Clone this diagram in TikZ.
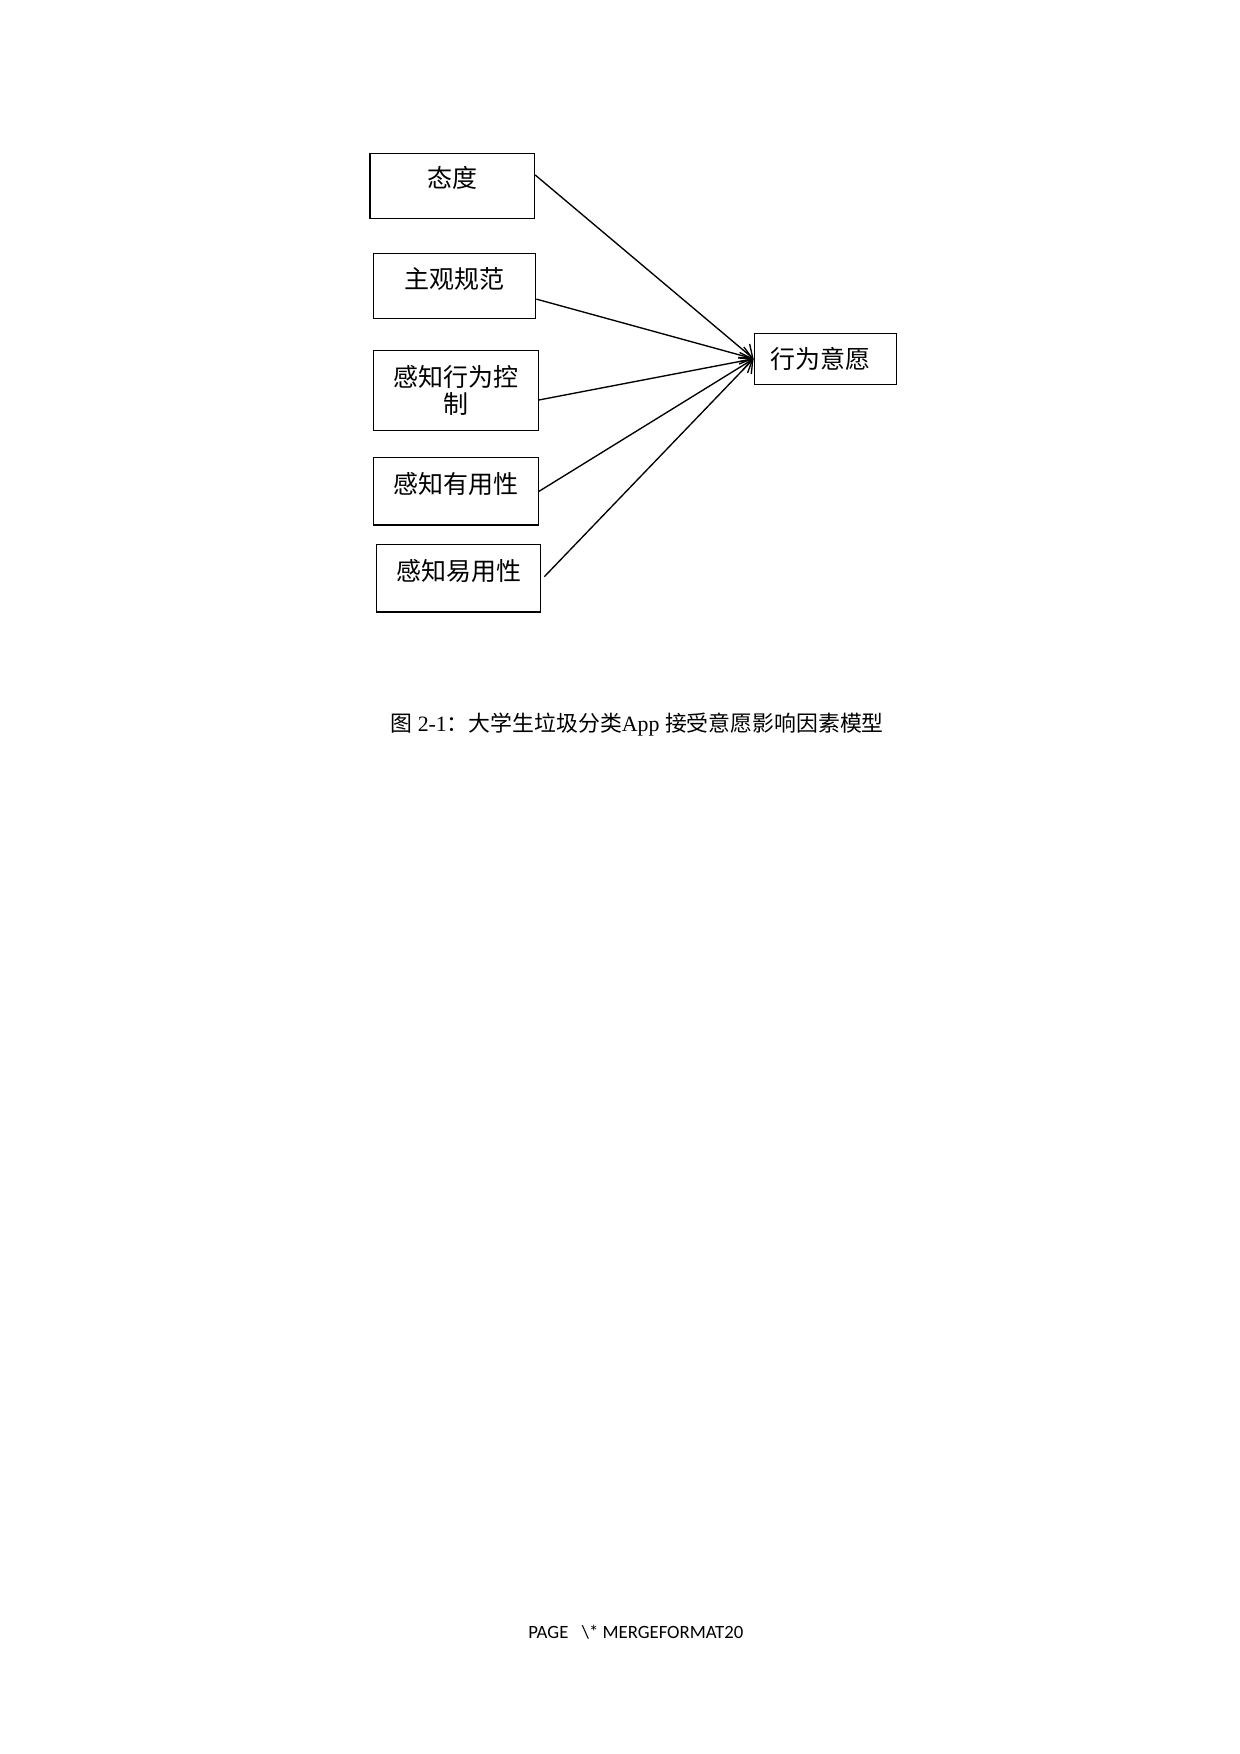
\documentclass[tikz,border=0pt]{standalone}
\usepackage{fontspec}
\setmainfont{Liberation Serif}
\newfontfamily\cjk{Noto Sans CJK SC}
\newfontfamily\footfont{Carlito}
\usetikzlibrary{arrows.meta}
\begin{document}
\begin{tikzpicture}[x=0.48pt,y=-0.48pt,
  factor/.style={draw,line width=0.55pt,inner sep=0pt,minimum width=79pt,
    font=\cjk\fontsize{12}{13}\selectfont,align=center},
  raised/.style={text height=10pt,text depth=8.2pt},
  >={Straight Barb[length=5.5pt,width=8.5pt]}]
\useasboundingbox (0,0) rectangle (1240,1754);
\node[factor,raised,minimum height=31.2pt] (att) at (452.3,186) {态度};
\node[factor,raised,minimum height=31.2pt,minimum width=77.8pt] (norm) at (454.8,286.2) {主观规范};
\node[factor,minimum height=38.1pt] (ctrl) at (456,390.4) {感知行为控\\制};
\node[factor,raised,minimum height=32.3pt] (use) at (456,491.4) {感知有用性};
\node[factor,raised,minimum height=32.3pt] (ease) at (458.5,578.4) {感知易用性};
\node[factor,minimum height=24.5pt,minimum width=68.4pt] (intent) at (825.4,358.8)
  {行为意愿\hspace{5pt}};
\draw[arrows=->,line width=0.65pt] ([yshift=5.3pt]att.east)--(intent.west);
\draw[arrows=->,line width=0.65pt] ([yshift=-6.2pt]norm.east)--(intent.west);
\draw[arrows=->,line width=0.65pt] ([yshift=-4.6pt]ctrl.east)--(intent.west);
\draw[arrows=->,line width=0.65pt] (use.east)--(intent.west);
\draw[arrows=->,line width=0.65pt] ([xshift=1.4pt,yshift=0.8pt]ease.east)--(intent.west);
\node[anchor=west,inner sep=0pt,font=\fontsize{10.5}{12}\selectfont] (caption) at (390,725)
  {{\cjk 图} 2-1{\cjk ：大学生垃圾分类}App {\cjk 接受意愿影响因素模型}};
\node[anchor=west,inner sep=0pt,font=\footfont\fontsize{9}{10}\selectfont] (pagefield) at (528,1632)
  {PAGE\hspace{6.4pt}\textbackslash* MERGEFORMAT20};
\end{tikzpicture}
\end{document}
